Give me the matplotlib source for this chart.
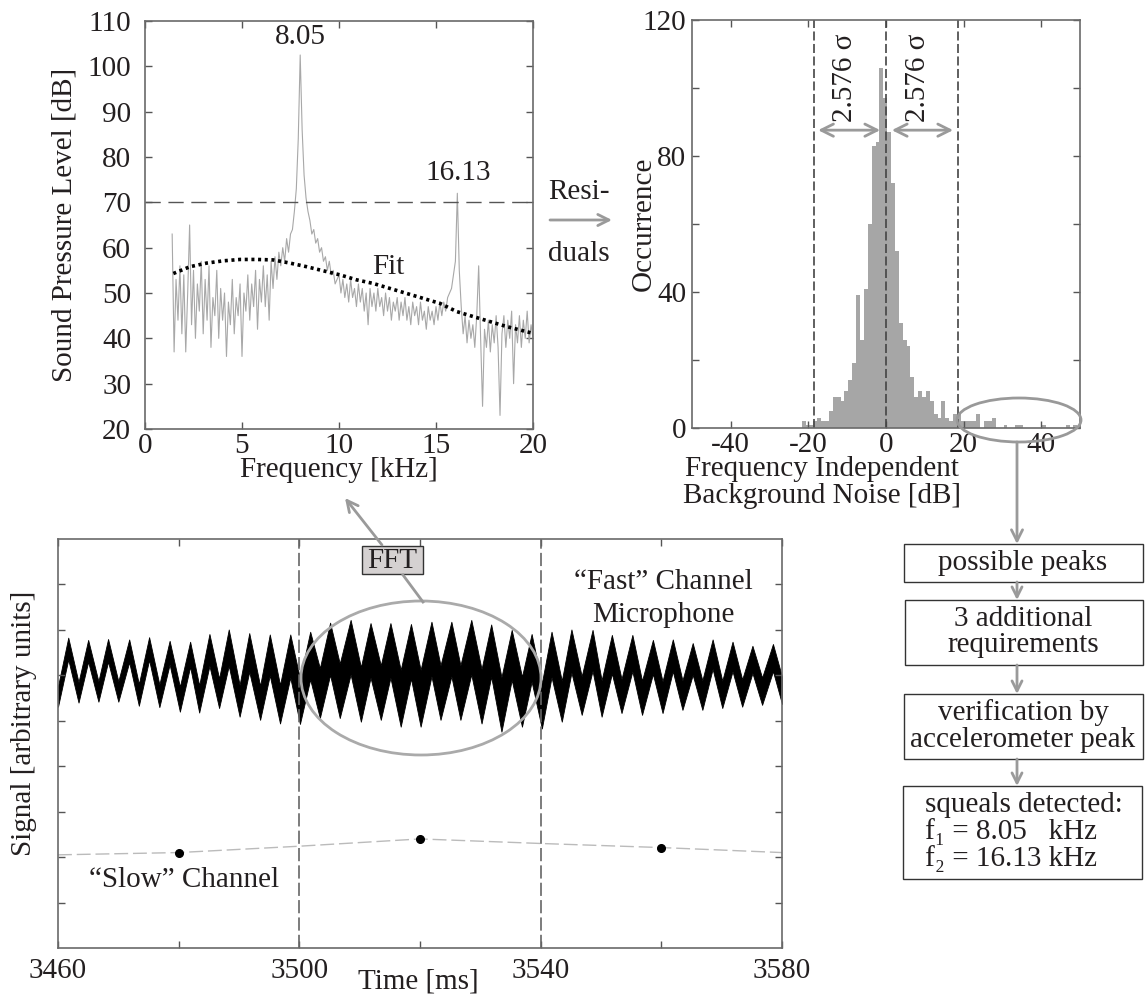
import numpy as np
import matplotlib
matplotlib.use("Agg")
import matplotlib.pyplot as plt
from matplotlib.patches import Ellipse, Rectangle

plt.rcParams['font.family'] = ['Liberation Serif', 'DejaVu Serif']
plt.rcParams['lines.scale_dashes'] = False
plt.rcParams['axes.unicode_minus'] = False
plt.rcParams['font.size'] = 21

TXT = '#231f20'
GREY = '#9a9a9a'

# ---------------- spectrum (top left) ----------------
freq = np.round(np.arange(1.4, 20.05, 0.1), 1)
spl = [63, 37, 53, 44, 56, 41,
       54, 37, 50, 65, 43, 55, 40, 52, 46, 57,
       41, 53, 44, 56, 38, 49, 45, 55, 40, 51,
       44, 50, 36, 48, 43, 53, 41, 49, 45, 52,
       36, 50, 46, 54, 44, 52, 47, 55, 42, 53,
       48, 56, 47, 54, 44, 57, 51, 58, 53, 59,
       56, 60, 57, 62, 59, 63, 64, 68, 73, 84,
       102.5, 86, 76, 71, 68, 66, 63, 64, 61, 62,
       59, 60, 57, 58, 55, 57, 54, 55, 52, 53,
       54, 50, 53, 49, 52, 48, 53, 49, 51, 47,
       52, 48, 51, 46, 50, 43, 51, 47, 50, 46,
       51, 47, 49, 45, 50, 46, 49, 44, 48, 46,
       49, 44, 48, 45, 49, 44, 47, 43, 48, 45,
       47, 43, 48, 44, 46, 42, 47, 44, 46, 43,
       47, 44, 48, 45, 48, 46, 49, 50, 51, 54,
       57, 72, 55, 47, 41, 45, 39, 44, 40, 43,
       38, 45, 56, 40, 25, 42, 38, 44, 37, 43,
       39, 45, 38, 23, 41, 45, 38, 44, 40, 46,
       30, 43, 39, 45, 38, 44, 40, 46, 39, 43,
       40]

fit_f = [1.46, 2.32, 3.18, 4.04, 4.90, 5.76, 6.61, 7.47, 8.33, 9.19, 10.05,
         10.91, 11.77, 12.63, 13.49, 14.35, 15.21, 16.07, 16.92, 17.78, 18.64, 20.0]
fit_db = [54.3, 55.8, 56.6, 57.1, 57.4, 57.4, 57.3, 56.6, 55.8, 54.9, 54.0,
          52.9, 52.1, 51.0, 49.9, 48.8, 47.7, 45.9, 44.8, 43.7, 42.6, 41.1]
threshold_db = 70

# ---------------- residual histogram (top right) ----------------
hist_center = np.round(np.arange(-21.2, 48.9, 1.0), 1)
hist_count = [2, 1, 1, 2, 3, 2, 2, 5, 9, 9,
              8, 11, 14, 19, 39, 26, 41, 60, 83, 84,
              106, 97, 87, 72, 52, 31, 26, 24, 15, 9,
              11, 9, 11, 8, 4, 3, 8, 3, 2, 4,
              4, 2, 2, 2, 2, 4, 0, 2, 2, 3,
              0, 0, 1, 0, 0, 1, 1, 0, 0, 0,
              0, 0, 1, 0, 0, 0, 0, 0, 1, 0, 1]
sigma_limit = [-18.6, 18.6]

# ---------------- time signal (bottom) ----------------
peak_t = [3461.7, 3465.0, 3468.3, 3471.8, 3475.1, 3478.5, 3481.9, 3485.1, 3488.3,
          3491.7, 3495.1, 3498.5, 3501.8, 3505.1, 3508.5, 3511.8, 3515.1, 3518.5,
          3521.9, 3525.2, 3528.5, 3531.8, 3535.2, 3538.5, 3541.8, 3545.1, 3548.6,
          3551.8, 3555.2, 3558.6, 3561.9, 3565.2, 3568.5, 3571.8, 3575.1, 3578.5]
peak_v = [6.83, 6.78, 6.80, 6.79, 6.84, 6.76, 6.74, 6.91, 7.01, 6.93, 6.90, 6.90,
          6.96, 7.16, 7.22, 7.15, 7.15, 7.13, 7.18, 7.18, 7.22, 7.12, 7.00, 6.91,
          6.96, 7.01, 7.00, 6.89, 6.89, 6.78, 6.79, 6.71, 6.79, 6.74, 6.65, 6.69]
band_peak = [0.48, 0.48, 0.50, 0.50, 0.50, 0.52, 0.55, 0.70, 0.80, 0.85, 0.90, 0.95,
             1.05, 1.15, 1.20, 1.20, 1.20, 1.20, 1.20, 1.20, 1.20, 1.15, 1.10, 1.05,
             1.00, 0.95, 0.90, 0.85, 0.80, 0.75, 0.70, 0.70, 0.65, 0.65, 0.60, 0.60]
trough_t = [3460.0, 3463.4, 3466.7, 3470.0, 3473.4, 3476.8, 3480.2, 3483.4, 3486.7,
            3490.1, 3493.5, 3496.8, 3500.1, 3503.4, 3506.7, 3510.2, 3513.5, 3516.8,
            3520.1, 3523.4, 3526.7, 3530.2, 3533.5, 3536.9, 3540.2, 3543.5, 3546.8,
            3550.1, 3553.4, 3556.8, 3560.2, 3563.5, 3566.8, 3570.1, 3573.4, 3576.7, 3580.0]
trough_v = [5.31, 5.40, 5.42, 5.42, 5.33, 5.30, 5.20, 5.18, 5.28, 5.09, 5.02, 4.94,
            4.93, 5.06, 5.06, 4.98, 5.02, 4.87, 4.87, 5.02, 5.02, 4.94, 4.76, 4.87,
            4.83, 4.98, 5.13, 5.09, 5.17, 5.13, 5.17, 5.24, 5.24, 5.28, 5.31, 5.35, 5.37]
band_trough = [0.45, 0.45, 0.45, 0.45, 0.48, 0.50, 0.55, 0.60, 0.65, 0.70, 0.75, 0.85,
               1.00, 1.10, 1.20, 1.20, 1.20, 1.25, 1.25, 1.20, 1.20, 1.20, 1.20, 1.10,
               1.00, 0.90, 0.85, 0.80, 0.75, 0.75, 0.70, 0.65, 0.65, 0.60, 0.60, 0.60, 0.60]

slow_line_t = [3460, 3480, 3500, 3520, 3540, 3560, 3580]
slow_line_v = [2.05, 2.10, 2.24, 2.40, 2.30, 2.21, 2.10]
slow_t = [3480, 3520, 3560]
slow_v = [2.10, 2.40, 2.21]
window_t = [3500, 3540]

W, H = 1145, 999
fig = plt.figure(figsize=(W / 100, H / 100), dpi=100)


def style(ax, xpad, ypad):
    ax.tick_params(direction='in', top=True, right=True, length=5, width=1,
                   color='#555555', labelcolor=TXT, labelsize=21)
    ax.tick_params(axis='x', pad=xpad)
    ax.tick_params(axis='y', pad=ypad)
    for s in ax.spines.values():
        s.set_color('#6a6a6a')
        s.set_linewidth(1.2)


# top left
ax1 = fig.add_axes([145 / W, 1 - 429 / H, 388 / W, 408 / H])
ax1.plot(freq, spl, color='#a8a8a8', lw=0.8)
ax1.plot(fit_f, fit_db, color='black', lw=2.6, ls=(0, (2.2, 2.6)))
ax1.axhline(threshold_db, color='#555555', lw=1.0, ls=(0, (11, 5.5)))
ax1.set_xlim(0, 20)
ax1.set_ylim(20, 110)
ax1.set_xticks([0, 5, 10, 15, 20])
ax1.set_yticks(range(20, 111, 10))
style(ax1, 3, 10)
ax1.set_xlabel('Frequency [kHz]', color=TXT, fontsize=21)
ax1.xaxis.set_label_coords(0.5, -0.068)
ax1.set_ylabel('Sound Pressure Level [dB]', color=TXT, fontsize=21)
ax1.yaxis.set_label_coords(-0.173, 0.5)
ax1.text(7.99, 106.5, '8.05', ha='center', va='center', color=TXT, fontsize=21)
ax1.text(16.13, 76.5, '16.13', ha='center', va='center', color=TXT, fontsize=21)
ax1.text(12.53, 55.7, 'Fit', ha='center', va='center', color=TXT, fontsize=21)

# top right
ax2 = fig.add_axes([692 / W, 1 - 428 / H, 388 / W, 408 / H])
ax2.bar(hist_center, hist_count, width=1.0, color='#a6a6a6', lw=0)
for x in [sigma_limit[0], 0, sigma_limit[1]]:
    ax2.axvline(x, color='#444444', lw=1.2, ls=(0, (6.5, 2.5)))
ax2.set_xlim(-50, 50)
ax2.set_ylim(0, 120)
ax2.set_xticks([-40, -20, 0, 20, 40])
ax2.set_yticks(range(0, 121, 20))
ax2.set_yticklabels(['0', '', '40', '', '80', '', '120'])
style(ax2, 3, 4)
ax2.set_xlabel('Frequency Independent\nBackground Noise [dB]', color=TXT,
               fontsize=21, linespacing=1.05)
ax2.xaxis.set_label_coords(0.335, -0.068)
ax2.set_ylabel('Occurrence', color=TXT, fontsize=21)
ax2.yaxis.set_label_coords(-0.09, 0.5)
for xs in [-10.6, 8.2]:
    ax2.text(xs, 103, '2.576 σ', rotation=90, ha='center', va='center',
             color=TXT, fontsize=21)
for a, b in [(-17.5, -1.5), (1.5, 17.3)]:
    ax2.annotate('', xy=(b, 87.6), xytext=(a, 87.6),
                 arrowprops=dict(arrowstyle='<->', color=GREY, lw=2,
                                 mutation_scale=22, shrinkA=0, shrinkB=0))

# bottom
ax3 = fig.add_axes([58 / W, 1 - 948 / H, 724 / W, 409 / H])
vert_t = np.empty(len(trough_t) + len(peak_t))
vert_t[0::2] = trough_t
vert_t[1::2] = peak_t
upper = np.empty_like(vert_t)
lower = np.empty_like(vert_t)
upper[0::2] = np.array(trough_v) + np.array(band_trough)
upper[1::2] = peak_v
lower[0::2] = trough_v
lower[1::2] = np.array(peak_v) - np.array(band_peak)
ax3.fill_between(vert_t, lower, upper, color='black', lw=0.6)
ax3.plot(slow_line_t, slow_line_v, color='#bbbbbb', lw=1.0, ls=(0, (10, 3.5)))
ax3.plot(slow_t, slow_v, 'o', color='black', ms=5.5)
for t in window_t:
    ax3.axvline(t, color='#666666', lw=1.2, ls=(0, (9.5, 3)))
ax3.set_xlim(3460, 3580)
ax3.set_ylim(0, 9)
ax3.set_xticks(range(3460, 3581, 20))
ax3.set_xticklabels(['3460', '', '3500', '', '3540', '', '3580'])
ax3.set_yticks(range(1, 9))
ax3.set_yticklabels([])
style(ax3, 7, 4)
ax3.set_xlabel('Time [ms]', color=TXT, fontsize=21)
ax3.xaxis.set_label_coords(0.497, -0.049)
ax3.set_ylabel('Signal [arbitrary units]', color=TXT, fontsize=21)
ax3.yaxis.set_label_coords(-0.029, 0.548)
ax3.text(3560.3, 8.05, '“Fast” Channel', ha='center', va='center', color=TXT, fontsize=21)
ax3.text(3560.3, 7.33, 'Microphone', ha='center', va='center', color=TXT, fontsize=21)
ax3.text(3480.9, 1.5, '“Slow” Channel', ha='center', va='center', color=TXT, fontsize=21)

# overlay in pixel coordinates for the connecting annotations and the flow chart
ov = fig.add_axes([0, 0, 1, 1], zorder=10)
ov.set_xlim(0, W)
ov.set_ylim(H, 0)
ov.axis('off')
ov.patch.set_alpha(0)


def arrow(p0, p1, style='->', ms=20):
    ov.annotate('', xy=p1, xytext=p0,
                arrowprops=dict(arrowstyle=style, color=GREY, lw=2,
                                mutation_scale=ms, shrinkA=0, shrinkB=0))


ov.add_patch(Ellipse((421, 678), 240, 154, fill=False, ec='#aaaaaa', lw=2))
ov.add_patch(Ellipse((1019, 420), 124, 44, fill=False, ec='#999999', lw=2))
ov.plot([403, 423], [575, 602], color=GREY, lw=2)
ov.add_patch(Rectangle((362, 546), 61, 28, fc='#d5d1d1', ec='#333333', lw=1))
ov.text(392.5, 561, 'FFT', ha='center', va='center', color=TXT, fontsize=21)
arrow((382, 545), (345, 498))

ov.text(579, 192, 'Resi-', ha='center', va='center', color=TXT, fontsize=21)
ov.text(579, 254, 'duals', ha='center', va='center', color=TXT, fontsize=21)
arrow((550, 220), (612, 220))

boxes = [((904, 544), 239, 38, 'possible peaks', 563),
         ((905, 600), 238, 65, '3 additional\nrequirements', 632),
         ((904, 694), 239, 65, 'verification by\naccelerometer peak', 726)]
for (x0, y0), w, h, label, yc in boxes:
    ov.add_patch(Rectangle((x0, y0), w, h, fill=False, ec='#333333', lw=1))
    ov.text(1023, yc, label, ha='center', va='center', color=TXT,
            fontsize=21, linespacing=1.02)
ov.add_patch(Rectangle((903, 786), 239, 93, fill=False, ec='#333333', lw=1))
ov.text(925, 832, 'squeals detected:\nf₁ = 8.05   kHz\nf₂ = 16.13 kHz',
        ha='left', va='center', color=TXT, fontsize=21, linespacing=0.98)

arrow((1017, 442), (1017, 544))
arrow((1017, 582), (1017, 600), ms=18)
arrow((1017, 665), (1017, 694), ms=18)
arrow((1017, 759), (1017, 786), ms=18)

fig.savefig('out.png', dpi=100)
